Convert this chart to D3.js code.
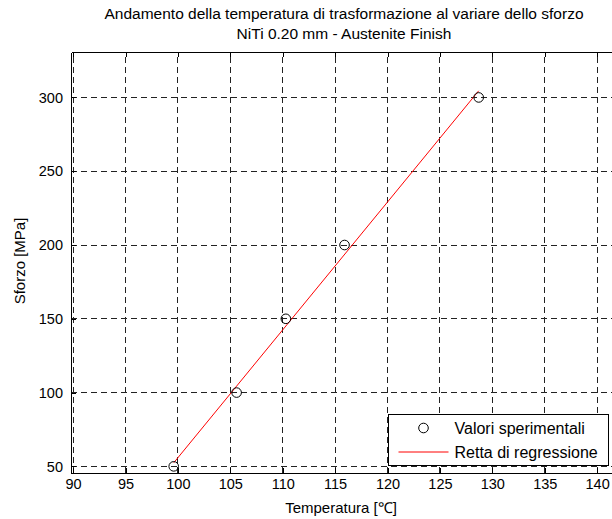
<!DOCTYPE html>
<html lang="it">
<head>
<meta charset="UTF-8">
<title>Andamento della temperatura di trasformazione</title>
<script src="https://d3js.org/d3.v7.min.js"></script>
<style>
  body { margin: 0; background: #fff; }
  text { font-family: "Liberation Sans", Arial, sans-serif; fill: #000; }
</style>
</head>
<body>
<svg id="chart"></svg>
<script>
// measured points (temperature in degC, stress in MPa)
const temperature = [99.6, 105.6, 110.3, 115.9, 128.7];
const stress = [50, 100, 150, 200, 300];
// regression line end points
const regTemp = [99.6, 128.7];
const regStress = [52.4, 304.5];
const xTicks = [90, 95, 100, 105, 110, 115, 120, 125, 130, 135, 140];
const yTicks = [50, 100, 150, 200, 250, 300];

const width = 612, height = 519;
const margin = {left: 71, top: 52, right: -4, bottom: 46};

const svg = d3.select("#chart").attr("width", width).attr("height", height);

const x = d3.scaleLinear().domain([89.8, 141.8]).range([margin.left, width - margin.right]);
const y = d3.scaleLinear().domain([45.5, 330.8]).range([height - margin.bottom, margin.top]);

const plot = svg.append("g");

// grid
plot.selectAll(".vgrid").data(xTicks).enter().append("line")
    .attr("x1", d => x(d)).attr("x2", d => x(d))
    .attr("y1", y.range()[0]).attr("y2", y.range()[1])
    .attr("stroke", "#222").attr("stroke-width", 1)
    .attr("stroke-dasharray", "6,4").attr("shape-rendering", "crispEdges");
plot.selectAll(".hgrid").data(yTicks).enter().append("line")
    .attr("x1", x.range()[0]).attr("x2", x.range()[1])
    .attr("y1", d => y(d)).attr("y2", d => y(d))
    .attr("stroke", "#222").attr("stroke-width", 1)
    .attr("stroke-dasharray", "6,4").attr("shape-rendering", "crispEdges");

// axes (ticks inside, as in MATLAB)
const fmt = d3.format("d");
const xb = svg.append("g").attr("transform", `translate(0,${y.range()[0]})`)
    .call(d3.axisBottom(x).tickValues(xTicks).tickFormat(fmt).tickSizeInner(-5).tickSizeOuter(0).tickPadding(6));
const xt = svg.append("g").attr("transform", `translate(0,${y.range()[1]})`)
    .call(d3.axisTop(x).tickValues(xTicks).tickFormat("").tickSizeInner(-5).tickSizeOuter(0));
const yl = svg.append("g").attr("transform", `translate(${x.range()[0]},0)`)
    .call(d3.axisLeft(y).tickValues(yTicks).tickFormat(fmt).tickSizeInner(-5).tickSizeOuter(0).tickPadding(8));
[xb, xt, yl].forEach(g => {
    g.selectAll("text").style("font-size", "14.5px").style("font-family", "Liberation Sans, Arial, sans-serif");
    g.selectAll("path, line").attr("stroke", "#000").attr("shape-rendering", "crispEdges");
});
yl.select("path").attr("stroke-width", 1.5);

// regression line
const line = d3.line().x(d => x(d[0])).y(d => y(d[1]));
plot.append("path")
    .datum(d3.zip(regTemp, regStress))
    .attr("d", line)
    .attr("fill", "none").attr("stroke", "#f00").attr("stroke-width", 1);

// experimental values
plot.selectAll(".pt").data(d3.zip(temperature, stress)).enter().append("circle")
    .attr("cx", d => x(d[0])).attr("cy", d => y(d[1])).attr("r", 4.8)
    .attr("fill", "none").attr("stroke", "#000").attr("stroke-width", 1);

// titles
svg.append("text").attr("x", 344).attr("y", 19).attr("text-anchor", "middle")
    .style("font-size", "15.5px").text("Andamento della temperatura di trasformazione al variare dello sforzo");
svg.append("text").attr("x", 344).attr("y", 39).attr("text-anchor", "middle")
    .style("font-size", "15.5px").text("NiTi 0.20 mm - Austenite Finish");
svg.append("text").attr("x", 341).attr("y", 513).attr("text-anchor", "middle")
    .style("font-size", "15px").text("Temperatura [\u2103]");
svg.append("text").attr("transform", "translate(25,261) rotate(-90)").attr("text-anchor", "middle")
    .style("font-size", "15px").text("Sforzo [MPa]");

// legend
const lg = svg.append("g").attr("transform", "translate(388.5,414.5)");
lg.append("rect").attr("width", 220).attr("height", 51)
    .attr("fill", "#fff").attr("stroke", "#000").attr("stroke-width", 1);
lg.append("circle").attr("cx", 35).attr("cy", 13.5).attr("r", 4.8)
    .attr("fill", "none").attr("stroke", "#000");
lg.append("text").attr("x", 66).attr("y", 19).style("font-size", "16px").text("Valori sperimentali");
lg.append("line").attr("x1", 10).attr("x2", 60).attr("y1", 37.5).attr("y2", 37.5)
    .attr("stroke", "#f00").attr("stroke-width", 1);
lg.append("text").attr("x", 66).attr("y", 43).style("font-size", "16px").text("Retta di regressione");
</script>
</body>
</html>
